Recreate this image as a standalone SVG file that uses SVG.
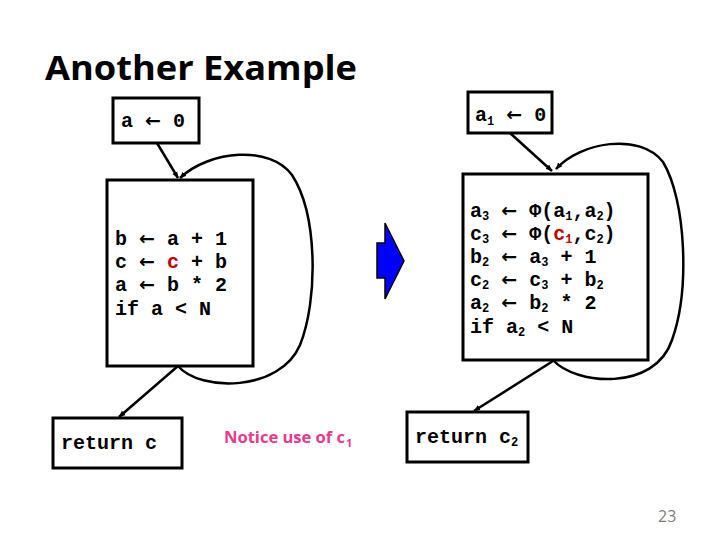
<svg xmlns="http://www.w3.org/2000/svg" width="720" height="540" viewBox="0 0 720 540">
<defs>
<marker id="ah" viewBox="0 0 10 10" refX="9" refY="5" markerWidth="7" markerHeight="7" orient="auto-start-reverse" markerUnits="userSpaceOnUse">
<path d="M0,1 L10,5 L0,9 Z" fill="#000"/>
</marker>
<style>
.box{fill:#fff;stroke:#000;stroke-width:3}
.code{font-family:"Liberation Mono","Courier New",monospace;font-size:20px;fill:#000;font-weight:bold}
.sub{font-size:12px}
.ar{font-family:"DejaVu Sans",sans-serif;font-weight:bold;font-size:19px}
.edge{fill:none;stroke:#000;stroke-width:2.5}
.red{fill:#c00000}
</style>
</defs>
<rect width="720" height="540" fill="#fff"/>
<text x="45" y="80" font-family="'Open Sans','Liberation Sans',sans-serif" font-weight="bold" font-size="34" textLength="312" lengthAdjust="spacingAndGlyphs">Another Example</text>

<g id="connectors">
<line class="edge" x1="157" y1="143" x2="178" y2="178" marker-end="url(#ah)"/>
<path class="edge" d="M178,366 C200,392 280,392 300,345 C318,300 318,215 292,175 C270,145 210,150 180,178" marker-end="url(#ah)"/>
<line class="edge" x1="178" y1="366" x2="119" y2="417" marker-end="url(#ah)"/>
<line class="edge" x1="510" y1="133" x2="552" y2="171" marker-end="url(#ah)"/>
<path class="edge" d="M553,360 C575,385 655,392 672,340 C690,290 686,200 663,162 C640,132 580,142 556,169" marker-end="url(#ah)"/>
<line class="edge" x1="553" y1="361" x2="474" y2="411" marker-end="url(#ah)"/>
</g>

<g id="n_a0">
<rect class="box" x="113" y="98" width="86" height="45"/>
<text class="code" x="121" y="127">a <tspan class="ar">←</tspan> 0</text>
</g>
<g id="n_loop">
<rect class="box" x="107" y="180" width="146" height="186"/>
<text class="code" x="115" y="245">b <tspan class="ar">←</tspan> a + 1</text>
<text class="code" x="115" y="268">c <tspan class="ar">←</tspan> <tspan class="red">c</tspan> + b</text>
<text class="code" x="115" y="291">a <tspan class="ar">←</tspan> b * 2</text>
<text class="code" x="115" y="315">if a &lt; N</text>
</g>
<g id="n_ret">
<rect class="box" x="53" y="418" width="129" height="50"/>
<text class="code" x="61" y="449">return c</text>
</g>

<g id="arrow_big">
<path d="M377,243 L385,243 L385,223 L404,261 L385,299 L385,278 L377,278 Z" fill="#0000ff" stroke="#000" stroke-width="1.5"/>
</g>

<g id="n_a1">
<rect class="box" x="468" y="92" width="84" height="41"/>
<text class="code" x="475" y="121">a<tspan class="sub" dy="4">1</tspan><tspan dy="-4"> </tspan><tspan class="ar">←</tspan> 0</text>
</g>
<g id="n_loop2">
<rect class="box" x="463" y="174" width="185" height="186"/>
<text class="code" x="470" y="217">a<tspan class="sub" dy="3">3</tspan><tspan dy="-3"> </tspan><tspan class="ar">←</tspan> Φ(a<tspan class="sub" dy="3">1</tspan><tspan dy="-3">,a</tspan><tspan class="sub" dy="3">2</tspan><tspan dy="-3">)</tspan></text>
<text class="code" x="470" y="240">c<tspan class="sub" dy="3">3</tspan><tspan dy="-3"> </tspan><tspan class="ar">←</tspan> Φ(<tspan class="red">c</tspan><tspan class="sub red" dy="3">1</tspan><tspan dy="-3">,c</tspan><tspan class="sub" dy="3">2</tspan><tspan dy="-3">)</tspan></text>
<text class="code" x="470" y="263">b<tspan class="sub" dy="3">2</tspan><tspan dy="-3"> </tspan><tspan class="ar">←</tspan> a<tspan class="sub" dy="3">3</tspan><tspan dy="-3"> + 1</tspan></text>
<text class="code" x="470" y="286">c<tspan class="sub" dy="3">2</tspan><tspan dy="-3"> </tspan><tspan class="ar">←</tspan> c<tspan class="sub" dy="3">3</tspan><tspan dy="-3"> + b</tspan><tspan class="sub" dy="3">2</tspan></text>
<text class="code" x="470" y="309">a<tspan class="sub" dy="3">2</tspan><tspan dy="-3"> </tspan><tspan class="ar">←</tspan> b<tspan class="sub" dy="3">2</tspan><tspan dy="-3"> * 2</tspan></text>
<text class="code" x="470" y="333">if a<tspan class="sub" dy="3">2</tspan><tspan dy="-3"> &lt; N</tspan></text>
</g>
<g id="n_ret2">
<rect class="box" x="407" y="412" width="121" height="50"/>
<text class="code" x="415" y="443">return c<tspan class="sub" dy="3">2</tspan></text>
</g>

<text x="224" y="443" font-family="'Open Sans','Liberation Sans',sans-serif" font-weight="bold" font-size="16" fill="#e8398c" textLength="121" lengthAdjust="spacingAndGlyphs">Notice use of c</text>
<text x="346" y="447" font-family="'Open Sans','Liberation Sans',sans-serif" font-weight="bold" font-size="11" fill="#e8398c">1</text>
<text x="658" y="522" font-family="'Open Sans','Liberation Sans',sans-serif" font-size="16" fill="#7f7f7f">23</text>
</svg>
